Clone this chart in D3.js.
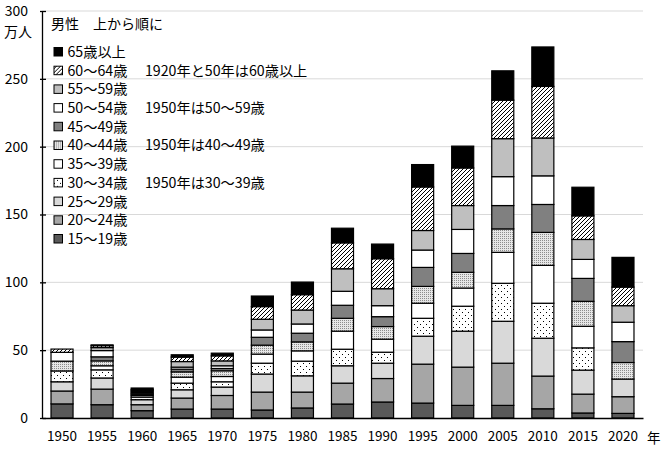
<!DOCTYPE html>
<html>
<head>
<meta charset="utf-8">
<script src="https://cdn.jsdelivr.net/npm/d3@7"></script>
<style>
  body { margin: 0; background: #fff; }
  svg text { font-family: "Noto Sans CJK JP", "Noto Sans", sans-serif; fill: #000; }
</style>
</head>
<body>
<div id="chart"></div>
<script>
'use strict';

// years on the x axis
const years = ['1950', '1955', '1960', '1965', '1970', '1975', '1980', '1985',
  '1990', '1995', '2000', '2005', '2010', '2015', '2020'];

// age groups, bottom of the stack first (万人)
const age15_19 = [10.4, 9.8, 5.4, 6.6, 6.6, 5.9, 7.4, 10.3, 11.8, 11.0, 9.3, 9.3, 6.8, 3.7, 3.4];
const age20_24 = [9.5, 11.5, 4.4, 8.1, 10.0, 13.2, 11.7, 15.4, 17.3, 28.7, 28.2, 31.1, 24.1, 13.9, 12.3];
const age25_29 = [6.8, 8.2, 3.7, 6.1, 6.2, 13.3, 12.0, 12.8, 11.3, 20.6, 26.5, 30.9, 27.9, 17.7, 13.0];
const age30_34 = [8.0, 6.0, 1.9, 4.9, 3.9, 8.0, 10.8, 12.2, 8.1, 13.2, 18.4, 28.0, 25.8, 16.4, 0];
const age35_39 = [0, 3.0, 1.2, 4.4, 3.9, 6.7, 7.6, 13.3, 9.6, 11.1, 13.4, 22.8, 27.9, 15.9, 0];
const age40_44 = [7.2, 3.6, 0.9, 3.9, 4.2, 6.6, 6.6, 9.5, 9.3, 12.4, 11.6, 17.3, 24.3, 18.4, 12.2];
const age45_49 = [0, 3.0, 0.8, 2.0, 1.7, 5.8, 6.4, 9.6, 7.3, 14.0, 13.9, 17.2, 20.6, 16.9, 15.4];
const age50_54 = [6.5, 4.6, 0.9, 1.5, 2.0, 5.4, 6.8, 10.3, 8.1, 12.8, 17.7, 21.3, 21.1, 14.0, 14.3];
const age55_59 = [0, 2.2, 0.9, 4.1, 3.6, 7.9, 10.3, 16.6, 12.5, 14.4, 17.6, 28.0, 27.9, 14.7, 12.2];
const age60_64 = [2.4, 1.4, 0.9, 3.3, 3.7, 9.3, 11.3, 19.1, 22.1, 32.1, 27.7, 28.4, 38.0, 17.4, 13.7];
const age65up = [0, 0.6, 1.1, 1.7, 2.0, 7.8, 9.3, 10.8, 10.8, 16.5, 16.1, 21.6, 29.1, 21.1, 21.9];

const ageLabels = ['15～19歳', '20～24歳', '25～29歳', '30～34歳', '35～39歳',
  '40～44歳', '45～49歳', '50～54歳', '55～59歳', '60～64歳', '65歳以上'];
const ageNotes = ['', '', '', '1950年は30～39歳', '', '1950年は40～49歳', '',
  '1950年は50～59歳', '', '1920年と50年は60歳以上', ''];
const yTicks = [0, 50, 100, 150, 200, 250, 300];

const seriesValues = [age15_19, age20_24, age25_29, age30_34, age35_39, age40_44,
  age45_49, age50_54, age55_59, age60_64, age65up];

// fill for each age group (bottom first)
const fills = ['#595959', '#a6a6a6', '#d9d9d9', 'url(#dotsSparse)', '#ffffff',
  'url(#dotsDense)', '#808080', '#ffffff', '#bfbfbf', 'url(#hatch)', '#000000'];

const width = 661;
const height = 451;
const plot = {left: 42, right: 643, top: 11, bottom: 418};

const svg = d3.select('#chart').append('svg')
  .attr('width', width)
  .attr('height', height);

// patterns
const defs = svg.append('defs');

const sparse = defs.append('pattern')
  .attr('id', 'dotsSparse')
  .attr('patternUnits', 'userSpaceOnUse')
  .attr('width', 6).attr('height', 6);
sparse.append('rect').attr('width', 6).attr('height', 6).attr('fill', '#fff');
sparse.append('rect').attr('x', 0).attr('y', 0).attr('width', 1).attr('height', 1).attr('fill', '#000');
sparse.append('rect').attr('x', 3).attr('y', 3).attr('width', 1).attr('height', 1).attr('fill', '#000');

const dense = defs.append('pattern')
  .attr('id', 'dotsDense')
  .attr('patternUnits', 'userSpaceOnUse')
  .attr('width', 2).attr('height', 2);
dense.append('rect').attr('width', 2).attr('height', 2).attr('fill', '#e6e6e6');
dense.append('rect').attr('x', 0).attr('y', 0).attr('width', 1).attr('height', 1).attr('fill', '#8c8c8c');

const hatch = defs.append('pattern')
  .attr('id', 'hatch')
  .attr('patternUnits', 'userSpaceOnUse')
  .attr('width', 4).attr('height', 4);
hatch.append('rect').attr('width', 4).attr('height', 4).attr('fill', '#fff');
hatch.append('path')
  .attr('d', 'M-1,1 l2,-2 M0,4 l4,-4 M3,5 l2,-2')
  .attr('stroke', '#000')
  .attr('stroke-width', 1);

// scales
const x = d3.scaleBand()
  .domain(years)
  .range([plot.left, plot.right])
  .paddingInner(0.45)
  .paddingOuter(0.225);

const y = d3.scaleLinear()
  .domain([0, 300])
  .range([plot.bottom, plot.top]);

// gridlines
svg.append('g')
  .selectAll('line')
  .data(yTicks.filter(d => d > 0))
  .join('line')
  .attr('x1', plot.left)
  .attr('x2', plot.right)
  .attr('y1', d => y(d))
  .attr('y2', d => y(d))
  .attr('stroke', '#d9d9d9')
  .attr('stroke-width', 1);

// stacked data
const keys = ageLabels;
const rows = years.map((yr, i) => {
  const row = {year: yr};
  keys.forEach((k, j) => { row[k] = seriesValues[j][i]; });
  return row;
});
const stacked = d3.stack().keys(keys)(rows);

const layers = svg.append('g')
  .selectAll('g')
  .data(stacked)
  .join('g')
  .attr('fill', (d, i) => fills[i]);

layers.selectAll('rect')
  .data(d => d.filter(s => s[1] - s[0] > 0))
  .join('rect')
  .attr('x', d => x(d.data.year))
  .attr('width', x.bandwidth())
  .attr('y', d => y(d[1]))
  .attr('height', d => y(d[0]) - y(d[1]))
  .attr('stroke', '#000')
  .attr('stroke-width', 1.2);

// y axis
const yAxis = svg.append('g')
  .attr('transform', `translate(${plot.left},0)`)
  .call(d3.axisLeft(y).tickValues(yTicks).tickSizeInner(-4).tickSizeOuter(0).tickPadding(14));
yAxis.select('.domain').attr('stroke', '#000').attr('stroke-width', 1.3);
yAxis.selectAll('.tick line').attr('stroke', '#000').attr('stroke-width', 1.3)
  .attr('x1', -2);
yAxis.selectAll('text').attr('font-size', '14px');

svg.append('text')
  .attr('x', 4)
  .attr('y', 37)
  .attr('font-size', '14px')
  .text('万人');

// x axis
const xAxis = svg.append('g')
  .attr('transform', `translate(0,${plot.bottom})`)
  .call(d3.axisBottom(x).tickSize(0).tickPadding(13));
xAxis.select('.domain').attr('stroke', '#000').attr('stroke-width', 1.3);
xAxis.selectAll('text').attr('font-size', '13.5px');

svg.append('text')
  .attr('x', 647)
  .attr('y', 443)
  .attr('font-size', '13.5px')
  .text('年');

// legend
svg.append('text')
  .attr('x', 51)
  .attr('y', 28.5)
  .attr('font-size', '14px')
  .text('男性　上から順に');

const legendTop = 52;
const legendStep = 18.7;
const legendItems = keys.map((k, i) => ({label: k, note: ageNotes[i], fill: fills[i]})).reverse();

const legend = svg.append('g')
  .selectAll('g')
  .data(legendItems)
  .join('g')
  .attr('transform', (d, i) => `translate(0,${legendTop + i * legendStep})`);

legend.append('rect')
  .attr('x', 54)
  .attr('y', -4.5)
  .attr('width', 8.5)
  .attr('height', 8.5)
  .attr('fill', d => d.fill)
  .attr('stroke', '#000')
  .attr('stroke-width', 1);

legend.append('text')
  .attr('x', 67.5)
  .attr('y', 0)
  .attr('dy', '0.35em')
  .attr('font-size', '14.2px')
  .text(d => d.label);

legend.append('text')
  .attr('x', 145)
  .attr('y', 0)
  .attr('dy', '0.35em')
  .attr('font-size', '14.2px')
  .text(d => d.note);
</script>
</body>
</html>
